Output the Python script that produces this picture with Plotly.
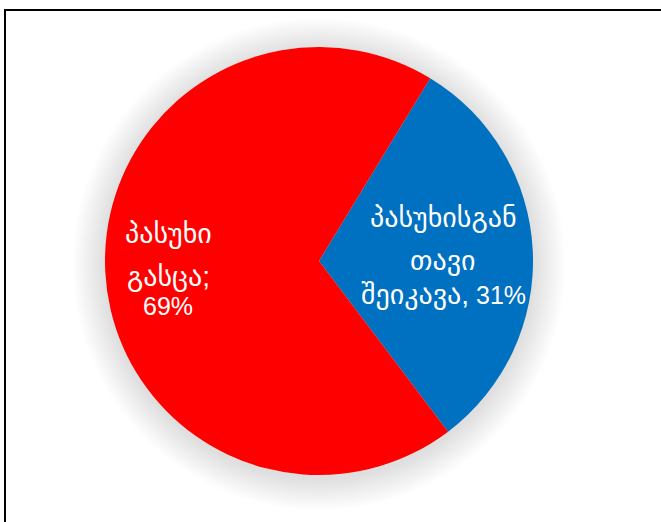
import plotly.graph_objects as go

# Survey answer shares (percent)
labels = ["პასუხისგან თავი შეიკავა", "პასუხი გასცა"]
values = [31, 69]
colors = ["#0070C0", "#FF0000"]
# label lines shown on each slice
label_lines = [["პასუხისგან", "თავი", "შეიკავა,"], ["პასუხი", "გასცა;", ""]]

W, H = 661, 522
cx, cy, R = 319, 261, 214  # pie centre and radius in pixels


def px(x):
    return x / W


def py(y):
    return 1 - y / H


fig = go.Figure(
    go.Pie(
        labels=labels,
        values=values,
        marker=dict(colors=colors, line=dict(width=0)),
        sort=False,
        direction="clockwise",
        rotation=31.3,
        textinfo="none",
        hoverinfo="label+percent",
        domain=dict(x=[px(cx - R), px(cx + R)], y=[py(cy + R), py(cy - R)]),
        showlegend=False,
    )
)

shapes = []
# soft glow under the pie
for k in range(32, 0, -2):
    shapes.append(
        dict(
            type="circle", xref="paper", yref="paper", layer="below",
            x0=px(cx - R - k), x1=px(cx + R + k),
            y0=py(cy + 3 + R + k), y1=py(cy + 3 - R - k),
            fillcolor="rgba(150,150,150,0.02)", line=dict(width=0),
        )
    )
# chart frame
shapes.append(
    dict(type="rect", xref="paper", yref="paper",
         x0=px(5), x1=1.2, y0=py(10), y1=-0.2,
         line=dict(color="black", width=2), fillcolor="rgba(0,0,0,0)")
)

font = dict(family="Liberation Sans, Arial, DejaVu Sans", size=25, color="white")
geo = '<span style="font-size:28px">{}</span>'
annotations = []
positions = [
    (443, [218, 260, 294]),
    (168, [233, 276, 306]),
]
for (x, ys), lines, v in zip(positions, label_lines, values):
    for i, (y, line) in enumerate(zip(ys, lines)):
        txt = geo.format(line) if line else ""
        if i == len(lines) - 1:
            txt = (txt + " " if txt else "") + f"{v}%"
        annotations.append(
            dict(x=px(x), y=py(y), xref="paper", yref="paper",
                 text=txt, showarrow=False,
                 xanchor="center", yanchor="middle", font=font)
        )

fig.update_layout(
    width=W, height=H,
    margin=dict(l=0, r=0, t=0, b=0),
    paper_bgcolor="white", plot_bgcolor="white",
    shapes=shapes, annotations=annotations,
)

fig.write_html("out.html")
